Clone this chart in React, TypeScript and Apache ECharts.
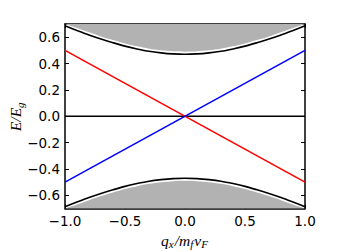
import React, { useEffect, useRef } from "react";
import * as echarts from "echarts";

const xs = [-1.0, -0.9, -0.8, -0.7, -0.6, -0.5, -0.4, -0.3, -0.2, -0.1, 0.0, 0.1, 0.2, 0.3, 0.4, 0.5, 0.6, 0.7, 0.8, 0.9, 1.0];
const upperBand = [0.686, 0.651, 0.617, 0.586, 0.558, 0.532, 0.511, 0.493, 0.481, 0.473, 0.47, 0.473, 0.481, 0.493, 0.511, 0.532, 0.558, 0.586, 0.617, 0.651, 0.686];
const grayEdge = [0.70, 0.67, 0.637, 0.606, 0.578, 0.552, 0.531, 0.513, 0.501, 0.493, 0.49, 0.493, 0.501, 0.513, 0.531, 0.552, 0.578, 0.606, 0.637, 0.67, 0.70];
const redLine = [0.5, -0.5];
const blueLine = [-0.5, 0.5];
const lineXs = [-1, 1];
const xTicks = [-1.0, -0.5, 0.0, 0.5, 1.0];
const yTicks = [-0.6, -0.4, -0.2, 0.0, 0.2, 0.4, 0.6];

const fmt = (v: number) => {
  const s = (Math.abs(v) < 1e-9 ? 0 : v).toFixed(1);
  return s.replace("-", "\u2212");
};

export default function App() {
  const ref = useRef<HTMLDivElement>(null);
  useEffect(() => {
    if (!ref.current) return;
    const chart = echarts.init(ref.current, undefined, { renderer: "svg" });
    const gridDef = { left: 65, right: 33, top: 24, bottom: 43.5, containLabel: false, outerBoundsMode: "none" };
    const axisLineStyle = { show: true, onZero: false, lineStyle: { color: "#000", width: 1.5 } };
    const tickIn = (vals: number[]) => ({
      show: true,
      inside: true,
      length: 4,
      customValues: vals,
      lineStyle: { color: "#000", width: 1 },
    });
    const labelStyle = {
      color: "#000",
      fontFamily: "DejaVu Sans",
      fontSize: 13.5,
    };
    const rich = {
      i: { fontFamily: "Liberation Serif", fontStyle: "italic", fontSize: 15.5, color: "#000" },
      s: { fontFamily: "Liberation Serif", fontStyle: "italic", fontSize: 11, color: "#000", verticalAlign: "bottom", padding: [8, 1, 0, 0] },
    };
    chart.setOption({
      animation: false,
      backgroundColor: "#fff",
      grid: gridDef,
      xAxis: [
        {
          type: "value",
          min: -1,
          max: 1,
          position: "bottom",
          axisLine: axisLineStyle,
          axisTick: tickIn(xTicks),
          axisLabel: { ...labelStyle, customValues: xTicks, formatter: fmt, margin: 5 },
          splitLine: { show: false },
          name: "{i|q}{s|x}{i|/m}{s|f}{i|v}{s|F}",
          nameLocation: "middle",
          nameGap: 22,
          nameMoveOverlap: false,
          nameTextStyle: { color: "#000", rich },
        },
        {
          type: "value",
          min: -1,
          max: 1,
          position: "top",
          axisLine: axisLineStyle,
          axisTick: tickIn(xTicks),
          axisLabel: { show: false, customValues: xTicks },
          splitLine: { show: false },
        },
      ],
      yAxis: [
        {
          type: "value",
          min: -0.7,
          max: 0.7,
          position: "left",
          axisLine: axisLineStyle,
          axisTick: tickIn(yTicks),
          axisLabel: { ...labelStyle, customValues: yTicks, formatter: fmt, margin: 5 },
          splitLine: { show: false },
          name: "{i|E/E}{s|g}",
          nameLocation: "middle",
          nameGap: 40,
          nameMoveOverlap: false,
          nameRotate: 90,
          nameTextStyle: { color: "#000", rich },
        },
        {
          type: "value",
          min: -0.7,
          max: 0.7,
          position: "right",
          axisLine: axisLineStyle,
          axisTick: tickIn(yTicks),
          axisLabel: { show: false, customValues: yTicks },
          splitLine: { show: false },
        },
      ],
      series: [
        {
          type: "line",
          data: xs.map((x, i) => [x, grayEdge[i]]),
          symbol: "none",
          smooth: 0.3,
          lineStyle: { width: 0 },
          areaStyle: { origin: "end", color: "#b2b2b2", opacity: 1 },
          z: 1,
        },
        {
          type: "line",
          data: xs.map((x, i) => [x, -grayEdge[i]]),
          symbol: "none",
          smooth: 0.3,
          lineStyle: { width: 0 },
          areaStyle: { origin: "start", color: "#b2b2b2", opacity: 1 },
          z: 1,
        },
        {
          type: "line",
          data: xs.map((x, i) => [x, upperBand[i]]),
          symbol: "none",
          smooth: 0.3,
          lineStyle: { color: "#000", width: 1.6 },
          z: 3,
        },
        {
          type: "line",
          data: xs.map((x, i) => [x, -upperBand[i]]),
          symbol: "none",
          smooth: 0.3,
          lineStyle: { color: "#000", width: 1.6 },
          z: 3,
        },
        {
          type: "line",
          data: lineXs.map((x) => [x, 0]),
          symbol: "none",
          lineStyle: { color: "#000", width: 1.6 },
          z: 2,
        },
        {
          type: "line",
          data: lineXs.map((x, i) => [x, redLine[i]]),
          symbol: "none",
          lineStyle: { color: "#ff0000", width: 1.6 },
          z: 4,
        },
        {
          type: "line",
          data: lineXs.map((x, i) => [x, blueLine[i]]),
          symbol: "none",
          lineStyle: { color: "#0000ff", width: 1.6 },
          z: 4,
        },
      ],
    });
    return () => chart.dispose();
  }, []);
  return <div ref={ref} style={{ width: 338, height: 252, position: "absolute", left: 0, top: 0 }} />;
}
